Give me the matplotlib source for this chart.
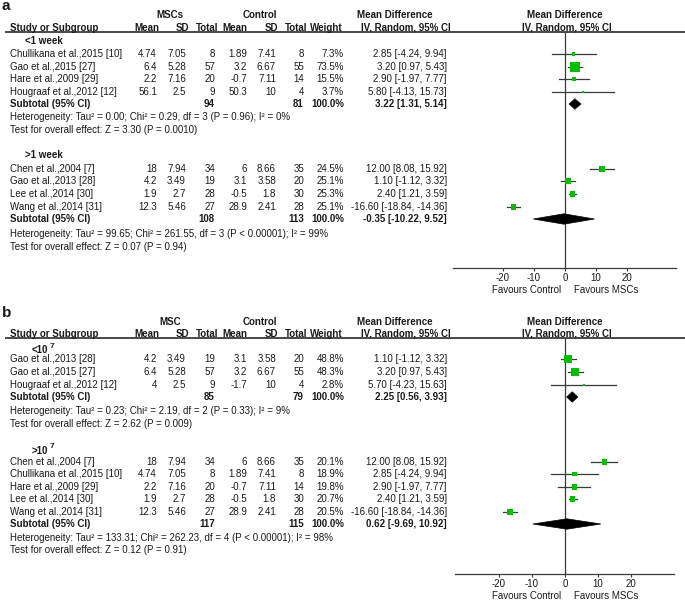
import matplotlib
matplotlib.use('Agg')
import matplotlib.pyplot as plt
from matplotlib.patches import Polygon

plt.rcParams['font.family'] = ['Liberation Sans', 'DejaVu Sans']

# ---------------- data: panel a ----------------
a1_label = "<1 week"
a1_study = ["Chullikana et al.,2015 [10]", "Gao et al.,2015 [27]",
            "Hare et al.,2009 [29]", "Hougraaf et al.,2012 [12]"]
a1_msc_mean = [4.74, 6.4, 2.2, 56.1]
a1_msc_sd = [7.05, 5.28, 7.16, 2.5]
a1_msc_n = [8, 57, 20, 9]
a1_ctl_mean = [1.89, 3.2, -0.7, 50.3]
a1_ctl_sd = [7.41, 6.67, 7.11, 10]
a1_ctl_n = [8, 55, 14, 4]
a1_weight = [7.3, 73.5, 15.5, 3.7]
a1_md = [2.85, 3.20, 2.90, 5.80]
a1_lo = [-4.24, 0.97, -1.97, -4.13]
a1_hi = [9.94, 5.43, 7.77, 15.73]
a1_sub = [94, 81, 3.22, 1.31, 5.14]
a1_het = "Heterogeneity: Tau² = 0.00; Chi² = 0.29, df = 3 (P = 0.96); I² = 0%"
a1_test = "Test for overall effect: Z = 3.30 (P = 0.0010)"

a2_label = ">1 week"
a2_study = ["Chen et al.,2004 [7]", "Gao et al.,2013 [28]",
            "Lee et al.,2014 [30]", "Wang et al.,2014 [31]"]
a2_msc_mean = [18, 4.2, 1.9, 12.3]
a2_msc_sd = [7.94, 3.49, 2.7, 5.46]
a2_msc_n = [34, 19, 28, 27]
a2_ctl_mean = [6, 3.1, -0.5, 28.9]
a2_ctl_sd = [8.66, 3.58, 1.8, 2.41]
a2_ctl_n = [35, 20, 30, 28]
a2_weight = [24.5, 25.1, 25.3, 25.1]
a2_md = [12.00, 1.10, 2.40, -16.60]
a2_lo = [8.08, -1.12, 1.21, -18.84]
a2_hi = [15.92, 3.32, 3.59, -14.36]
a2_sub = [108, 113, -0.35, -10.22, 9.52]
a2_het = "Heterogeneity: Tau² = 99.65; Chi² = 261.55, df = 3 (P < 0.00001); I² = 99%"
a2_test = "Test for overall effect: Z = 0.07 (P = 0.94)"

# ---------------- data: panel b ----------------
b1_label = "<10"
b1_study = ["Gao et al.,2013 [28]", "Gao et al.,2015 [27]", "Hougraaf et al.,2012 [12]"]
b1_msc_mean = [4.2, 6.4, 4]
b1_msc_sd = [3.49, 5.28, 2.5]
b1_msc_n = [19, 57, 9]
b1_ctl_mean = [3.1, 3.2, -1.7]
b1_ctl_sd = [3.58, 6.67, 10]
b1_ctl_n = [20, 55, 4]
b1_weight = [48.8, 48.3, 2.8]
b1_md = [1.10, 3.20, 5.70]
b1_lo = [-1.12, 0.97, -4.23]
b1_hi = [3.32, 5.43, 15.63]
b1_sub = [85, 79, 2.25, 0.56, 3.93]
b1_het = "Heterogeneity: Tau² = 0.23; Chi² = 2.19, df = 2 (P = 0.33); I² = 9%"
b1_test = "Test for overall effect: Z = 2.62 (P = 0.009)"

b2_label = ">10"
b2_study = ["Chen et al.,2004 [7]", "Chullikana et al.,2015 [10]", "Hare et al.,2009 [29]",
            "Lee et al.,2014 [30]", "Wang et al.,2014 [31]"]
b2_msc_mean = [18, 4.74, 2.2, 1.9, 12.3]
b2_msc_sd = [7.94, 7.05, 7.16, 2.7, 5.46]
b2_msc_n = [34, 8, 20, 28, 27]
b2_ctl_mean = [6, 1.89, -0.7, -0.5, 28.9]
b2_ctl_sd = [8.66, 7.41, 7.11, 1.8, 2.41]
b2_ctl_n = [35, 8, 14, 30, 28]
b2_weight = [20.1, 18.9, 19.8, 20.7, 20.5]
b2_md = [12.00, 2.85, 2.90, 2.40, -16.60]
b2_lo = [8.08, -4.24, -1.97, 1.21, -18.84]
b2_hi = [15.92, 9.94, 7.77, 3.59, -14.36]
b2_sub = [117, 115, 0.62, -9.69, 10.92]
b2_het = "Heterogeneity: Tau² = 133.31; Chi² = 262.23, df = 4 (P < 0.00001); I² = 98%"
b2_test = "Test for overall effect: Z = 0.12 (P = 0.91)"

ticks = [-20, -10, 0, 10, 20]

# ---------------- figure ----------------
W, H = 685, 601
fig = plt.figure(figsize=(W / 100, H / 100), dpi=100)
main = fig.add_axes([0, 0, 1, 1])
main.set_xlim(0, W)
main.set_ylim(H, 0)
main.axis('off')

FS = 7
TXT = '#1a1a1a'
LINE = '#3a3a3a'
GREEN = '#00c000'

# column right edges
C_MEAN1, C_SD1, C_TOT1 = 157, 186, 215
C_MEAN2, C_SD2, C_TOT2 = 247, 276, 304
C_WT, C_MD = 344, 447


def t(x, y, s, ha='left', bold=False, size=FS, **kw):
    return main.text(x, y, s, ha=ha, va='center', fontsize=size,
                     fontweight='bold' if bold else 'normal', color=TXT, **kw)


def draw_panel(letter, grp_name, lay, groups):
    t(2, lay['label_y'], letter, bold=True, size=11)
    # headers
    t(170, lay['grp_y'], grp_name, ha='center', bold=True)
    t(260, lay['grp_y'], 'Control', ha='center', bold=True)
    t(395, lay['grp_y'], 'Mean Difference', ha='center', bold=True)
    t(565, lay['grp_y'], 'Mean Difference', ha='center', bold=True)
    hy = lay['hdr_y']
    t(10, hy, 'Study or Subgroup', bold=True)
    for x, s in [(159, 'Mean'), (189, 'SD'), (218, 'Total'), (247, 'Mean'),
                 (278, 'SD'), (307, 'Total'), (343, 'Weight')]:
        t(x, hy, s, ha='right', bold=True)
    t(406, hy, 'IV, Random, 95% CI', ha='center', bold=True)
    t(567, hy, 'IV, Random, 95% CI', ha='center', bold=True)
    main.plot([5, W], [lay['rule_y'], lay['rule_y']], color=LINE, lw=1.3,
              solid_capstyle='butt')

    # forest axes
    left, right = lay['ax_x']
    top, bot = lay['rule_y'], lay['axis_y']
    ax = fig.add_axes([left / W, 1 - bot / H, (right - left) / W, (bot - top) / H])
    ax.patch.set_alpha(0)
    ax.set_xlim(*lay['xlim'])
    ax.set_ylim(bot, top)
    for sp in ['top', 'left', 'right']:
        ax.spines[sp].set_visible(False)
    ax.spines['bottom'].set_color(LINE)
    ax.spines['bottom'].set_linewidth(0.9)
    ax.set_yticks([])
    ax.set_xticks(ticks)
    ax.set_xticklabels([str(v) for v in ticks])
    ax.tick_params(axis='x', direction='out', length=2.5, width=0.8, color=LINE,
                   labelsize=FS, labelcolor=TXT, pad=1.0)
    ax.axvline(0, color=LINE, lw=0.9)

    for g in groups:
        lab = t(lay['sg_x'], g['label_y'], g['label'], bold=True)
        if g.get('sup'):
            main.annotate(g['sup'], xy=(1.05, 0.9), xycoords=lab, ha='left',
                          va='center', fontsize=6, fontweight='bold', color=TXT)
        for i, y in enumerate(g['rows']):
            t(10, y, g['study'][i])
            t(C_MEAN1, y, f"{g['mm'][i]:g}", ha='right')
            t(C_SD1, y, f"{g['ms'][i]:g}", ha='right')
            t(C_TOT1, y, f"{g['mn'][i]}", ha='right')
            t(C_MEAN2, y, f"{g['cm'][i]:g}", ha='right')
            t(C_SD2, y, f"{g['cs'][i]:g}", ha='right')
            t(C_TOT2, y, f"{g['cn'][i]}", ha='right')
            t(C_WT, y, f"{g['w'][i]:.1f}%", ha='right')
            t(C_MD, y, f"{g['md'][i]:.2f} [{g['lo'][i]:.2f}, {g['hi'][i]:.2f}]", ha='right')
            ax.plot([g['lo'][i], g['hi'][i]], [y, y], color=LINE, lw=0.9, zorder=2)
            side = max(1.8, 1.15 * g['w'][i] ** 0.5)
            ax.scatter([g['md'][i]], [y], marker='s', s=(side * 0.72) ** 2,
                       color=GREEN, edgecolors='none', zorder=3)
        sy = g['sub_y']
        n1, n2, m, lo, hi = g['sub']
        t(10, sy, 'Subtotal (95% CI)', bold=True)
        t(C_TOT1, sy, f"{n1}", ha='right', bold=True)
        t(C_TOT2, sy, f"{n2}", ha='right', bold=True)
        t(C_WT, sy, '100.0%', ha='right', bold=True)
        t(C_MD, sy, f"{m:.2f} [{lo:.2f}, {hi:.2f}]", ha='right', bold=True)
        hh = 5.2
        ax.add_patch(Polygon([[lo, sy], [m, sy - hh], [hi, sy], [m, sy + hh]],
                             closed=True, facecolor='black', edgecolor='black',
                             lw=0.5, zorder=3))
        t(10, g['het_y'], g['het'])
        t(10, g['test_y'], g['test'])

    zero_px = left + (0 - lay['xlim'][0]) / (lay['xlim'][1] - lay['xlim'][0]) * (right - left)
    t(zero_px - 4, lay['fav_y'], 'Favours Control', ha='right')
    t(zero_px + 9, lay['fav_y'], 'Favours MSCs', ha='left')


lay_a = dict(label_y=6, grp_y=15, hdr_y=28, rule_y=32, axis_y=268, fav_y=290,
             ax_x=(453, 676), xlim=(-36.1, 35.8), sg_x=25)
groups_a = [
    dict(label=a1_label, label_y=41, rows=[54, 67, 79, 92], sub_y=104, het_y=117, test_y=130,
         study=a1_study, mm=a1_msc_mean, ms=a1_msc_sd, mn=a1_msc_n, cm=a1_ctl_mean,
         cs=a1_ctl_sd, cn=a1_ctl_n, w=a1_weight, md=a1_md, lo=a1_lo, hi=a1_hi,
         sub=a1_sub, het=a1_het, test=a1_test),
    dict(label=a2_label, label_y=155, rows=[169, 181, 194, 207], sub_y=219, het_y=234, test_y=247,
         study=a2_study, mm=a2_msc_mean, ms=a2_msc_sd, mn=a2_msc_n, cm=a2_ctl_mean,
         cs=a2_ctl_sd, cn=a2_ctl_n, w=a2_weight, md=a2_md, lo=a2_lo, hi=a2_hi,
         sub=a2_sub, het=a2_het, test=a2_test),
]
draw_panel('a', 'MSCs', lay_a, groups_a)

lay_b = dict(label_y=313, grp_y=322, hdr_y=334, rule_y=338, axis_y=574, fav_y=596,
             ax_x=(455, 674), xlim=(-33.3, 33.1), sg_x=32)
groups_b = [
    dict(label=b1_label, sup='7', label_y=350, rows=[359, 372, 385], sub_y=397, het_y=411, test_y=424,
         study=b1_study, mm=b1_msc_mean, ms=b1_msc_sd, mn=b1_msc_n, cm=b1_ctl_mean,
         cs=b1_ctl_sd, cn=b1_ctl_n, w=b1_weight, md=b1_md, lo=b1_lo, hi=b1_hi,
         sub=b1_sub, het=b1_het, test=b1_test),
    dict(label=b2_label, sup='7', label_y=451, rows=[462, 474, 487, 499, 512], sub_y=524,
         het_y=538, test_y=550,
         study=b2_study, mm=b2_msc_mean, ms=b2_msc_sd, mn=b2_msc_n, cm=b2_ctl_mean,
         cs=b2_ctl_sd, cn=b2_ctl_n, w=b2_weight, md=b2_md, lo=b2_lo, hi=b2_hi,
         sub=b2_sub, het=b2_het, test=b2_test),
]
draw_panel('b', 'MSC', lay_b, groups_b)

fig.savefig('out.png', dpi=100, facecolor='white')
